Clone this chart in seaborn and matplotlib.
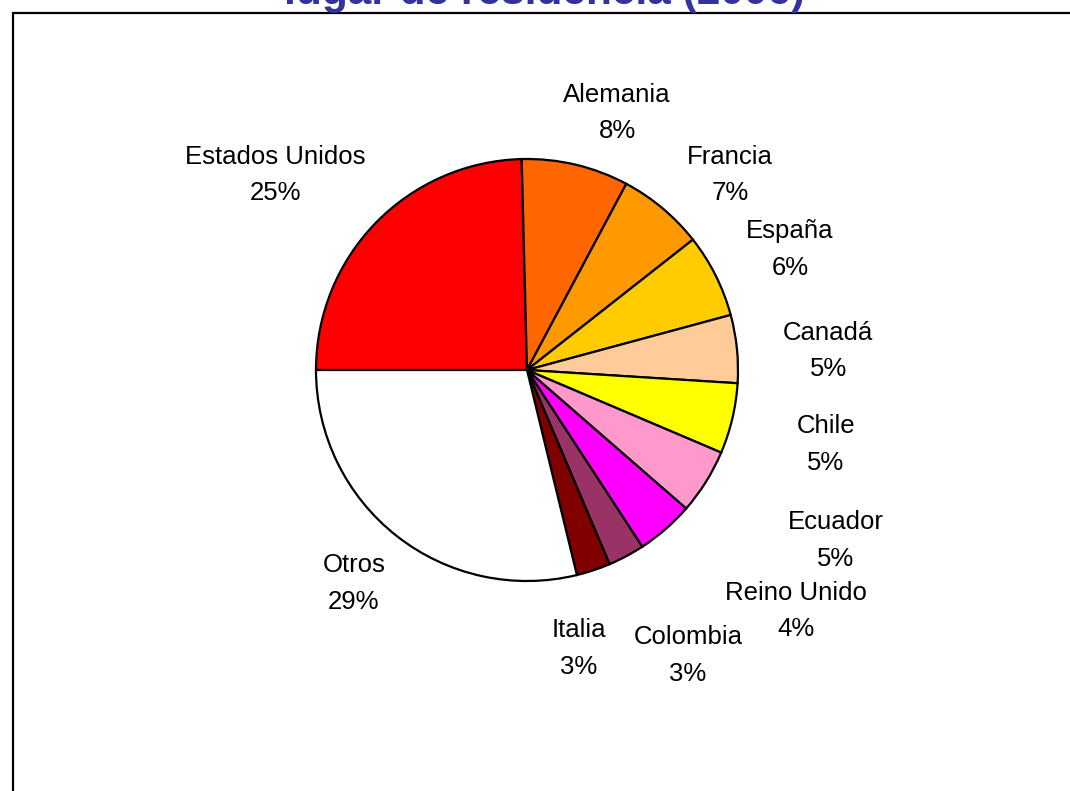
import matplotlib
matplotlib.use('Agg')
import matplotlib.pyplot as plt
import matplotlib.patches as mpatches
import seaborn as sns

# datos (porcentajes por lugar de residencia)
paises = ['Estados Unidos', 'Alemania', 'Francia', 'España', 'Canadá', 'Chile',
          'Ecuador', 'Reino Unido', 'Colombia', 'Italia', 'Otros']
porcentajes = [24.6, 8.2, 6.6, 6.4, 5.2, 5.4, 5.0, 4.4, 2.8, 2.6, 28.8]
colores = ['#FF0000', '#FF6600', '#FF9900', '#FFCC00', '#FFCC99', '#FFFF00',
           '#FF99CC', '#FF00FF', '#993366', '#800000', '#FFFFFF']
titulo = 'lugar de residencia (2006)'

# posiciones de las etiquetas (en radios, relativas al centro)
label_xy = [(-1.194, 0.924), (0.427, 1.218), (0.962, 0.924), (1.246, 0.569),
            (1.427, 0.090), (1.417, -0.355), (1.464, -0.806), (1.275, -1.142),
            (0.763, -1.351), (0.246, -1.318), (-0.820, -1.014)]

sns.set_theme(style='white')
plt.rcParams['font.family'] = ['Liberation Sans', 'DejaVu Sans']

W, H = 1070, 791
cx, cy, r = 527, 370, 211
fig = plt.figure(figsize=(W / 100, H / 100), dpi=100)
ax = fig.add_axes([0, 0, 1, 1])

ax.pie(porcentajes, colors=colores, startangle=180, counterclock=False,
       wedgeprops=dict(edgecolor='black', linewidth=1.6))
ax.set_xlim(-cx / r, (W - cx) / r)
ax.set_ylim(-(H - cy) / r, cy / r)
ax.set_aspect('auto')
ax.axis('off')

total = sum(porcentajes)
for nombre, val, (x, y) in zip(paises, porcentajes, label_xy):
    ax.text(x, y, f'{nombre}\n{round(val / total * 100)}%', ha='center',
            va='center', fontsize=18.5, linespacing=1.68, color='black')

# marco del gráfico
fig.patches.append(mpatches.Rectangle((12.5 / W, -0.1), 2, 1.1 - 12.5 / H,
                                      transform=fig.transFigure, fill=False,
                                      edgecolor='black', linewidth=1.6))

# el título queda cortado en el borde superior, como en el original
fig.text(544 / W, 1 - 4 / H, titulo, ha='center', va='baseline',
         fontsize=30.5, fontweight='bold', color='#333399')

fig.savefig('out.png', dpi=100)
